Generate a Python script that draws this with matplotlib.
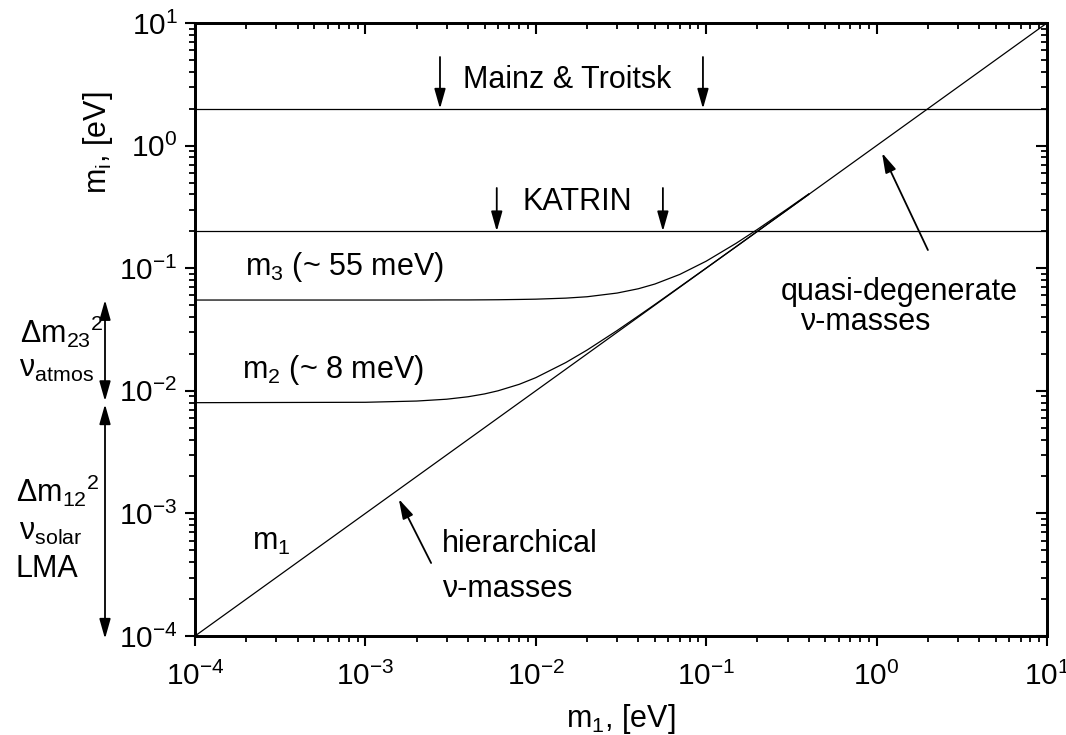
import matplotlib
matplotlib.use("Agg")
import matplotlib.pyplot as plt
import matplotlib.transforms as mtransforms

plt.rcParams["font.family"] = ["Liberation Sans", "DejaVu Sans"]
plt.rcParams["mathtext.fontset"] = "custom"
plt.rcParams["mathtext.rm"] = "Liberation Sans"
plt.rcParams["mathtext.it"] = "Liberation Sans"
plt.rcParams["mathtext.default"] = "regular"
plt.rcParams["axes.unicode_minus"] = False

# Data
m1_line = [1e-4, 10.0]
m1_grid = [1e-4, 1e-3, 2e-3, 3e-3, 4e-3, 5e-3, 6e-3, 8e-3, 1e-2, 1.5e-2,
           2e-2, 3e-2, 4e-2, 5e-2, 7e-2, 0.1, 0.15, 0.2, 0.3, 0.4]
m2_vals = [0.0080, 0.00806, 0.00825, 0.00854, 0.00894, 0.00943, 0.0100, 0.0113,
           0.0128, 0.0170, 0.0215, 0.0310, 0.0408, 0.0506, 0.0705, 0.1003,
           0.150, 0.200, 0.300, 0.400]
m3_vals = [0.0550, 0.0550, 0.0550, 0.0551, 0.0551, 0.0552, 0.0553, 0.0556,
           0.0559, 0.0570, 0.0585, 0.0627, 0.0680, 0.0743, 0.0890, 0.1141,
           0.1598, 0.2074, 0.3050, 0.4038]
limit_mainz = 2.0
limit_katrin = 0.2
mainz_marks = [2.74e-3, 0.0957]
katrin_marks = [5.9e-3, 0.0557]
dm_levels = [1e-4, 0.008, 0.055]

W, H = 1066, 735
fig = plt.figure(figsize=(W / 100, H / 100), dpi=100)
ax = fig.add_axes([195 / W, 1 - 636 / H, (1047 - 195) / W, (636 - 23) / H])

lw = 0.9
ax.plot(m1_line, m1_line, color="k", lw=lw)
ax.plot(m1_grid, m2_vals, color="k", lw=lw)
ax.plot(m1_grid, m3_vals, color="k", lw=lw)
ax.axhline(limit_mainz, color="k", lw=lw)
ax.axhline(limit_katrin, color="k", lw=lw)

ax.set_xscale("log")
ax.set_yscale("log")
ax.set_xlim(1e-4, 10)
ax.set_ylim(1e-4, 10)

for s in ax.spines.values():
    s.set_linewidth(1.8)
ax.tick_params(which="major", direction="out", length=7.5, width=1.5,
               labelsize=21.5, pad=5)
ax.tick_params(which="minor", direction="out", length=4, width=1.3)
ax.tick_params(axis="x", pad=11)

# mirrored ticks pointing inward on top and right
axt = ax.twiny()
axt.set_xscale("log")
axt.set_xlim(ax.get_xlim())
axt.tick_params(which="major", direction="in", length=8, width=1.5, labeltop=False)
axt.tick_params(which="minor", direction="in", length=4, width=1.3)
axr = ax.twinx()
axr.set_yscale("log")
axr.set_ylim(ax.get_ylim())
axr.tick_params(which="major", direction="in", length=8, width=1.5, labelright=False)
axr.tick_params(which="minor", direction="in", length=4, width=1.3)
for a in (axt, axr):
    for s in a.spines.values():
        s.set_linewidth(1.8)

fs = 22
head = dict(arrowstyle="-|>,head_length=0.6,head_width=0.17", color="k",
            lw=1.3, mutation_scale=20, shrinkA=0, shrinkB=0)

# experimental limits
ax.text(3.74e-3, 2.95, "Mainz & Troitsk", fontsize=fs, ha="left", va="baseline")
for xm in mainz_marks:
    ax.annotate("", xy=(xm, limit_mainz), xytext=(xm, 5.28), arrowprops=head)
ax.text(8.4e-3, 0.298, "KATRIN", fontsize=fs, ha="left", va="baseline")
for xm in katrin_marks:
    ax.annotate("", xy=(xm, limit_katrin), xytext=(xm, 0.451), arrowprops=head)

# curve labels
ax.text(1.96e-4, 0.0881, "m$_3$ (~ 55 meV)", fontsize=fs, ha="left", va="baseline")
ax.text(1.89e-4, 0.0127, "m$_2$ (~ 8 meV)", fontsize=fs, ha="left", va="baseline")
ax.text(2.16e-4, 5.03e-4, "m$_1$", fontsize=fs, ha="left", va="baseline")

ax.text(2.82e-3, 4.84e-4, "hierarchical", fontsize=fs, ha="left", va="baseline")
ax.text(2.82e-3, 2.08e-4, "ν-masses", fontsize=fs, ha="left", va="baseline")
ax.annotate("", xy=(1.57e-3, 1.31e-3), xytext=(2.43e-3, 3.94e-4), arrowprops=head)

ax.text(0.275, 0.0550, "quasi-degenerate", fontsize=fs, ha="left", va="baseline")
ax.text(0.356, 0.0313, "ν-masses", fontsize=fs, ha="left", va="baseline")
ax.annotate("", xy=(1.076, 0.871), xytext=(2.0, 0.1407), arrowprops=head)

# mass splitting arrows left of the axes
blend = mtransforms.blended_transform_factory(fig.transFigure, ax.transData)
dbl = dict(arrowstyle="<|-|>,head_length=0.6,head_width=0.17", color="k",
           lw=1.3, mutation_scale=20, shrinkA=0, shrinkB=0)
xa = 105 / W
ax.annotate("", xy=(xa, dm_levels[2]), xytext=(xa, dm_levels[1] * 1.03),
            xycoords=blend, textcoords=blend, arrowprops=dbl, annotation_clip=False)
ax.annotate("", xy=(xa, dm_levels[1] * 0.97), xytext=(xa, dm_levels[0] * 0.95),
            xycoords=blend, textcoords=blend, arrowprops=dbl, annotation_clip=False)


def ftext(px, py, s, **kw):
    fig.text(px / W, 1 - py / H, s, fontsize=fs, va="baseline", ha="left", **kw)


ftext(20, 343, "Δm$_{23}{}^{2}$")
ftext(19, 377, "ν$_{atmos}$")
ftext(16, 502, "Δm$_{12}{}^{2}$")
ftext(19, 540, "ν$_{solar}$")
ftext(15, 577, "LMA")

fig.text(98 / W, 1 - 143 / H, "m$_i$, [eV]", fontsize=fs, rotation=90,
         ha="center", va="center")
fig.text(621 / W, 1 - 727 / H, "m$_1$, [eV]", fontsize=fs, ha="center",
         va="baseline")

fig.savefig("out.png", dpi=100)
